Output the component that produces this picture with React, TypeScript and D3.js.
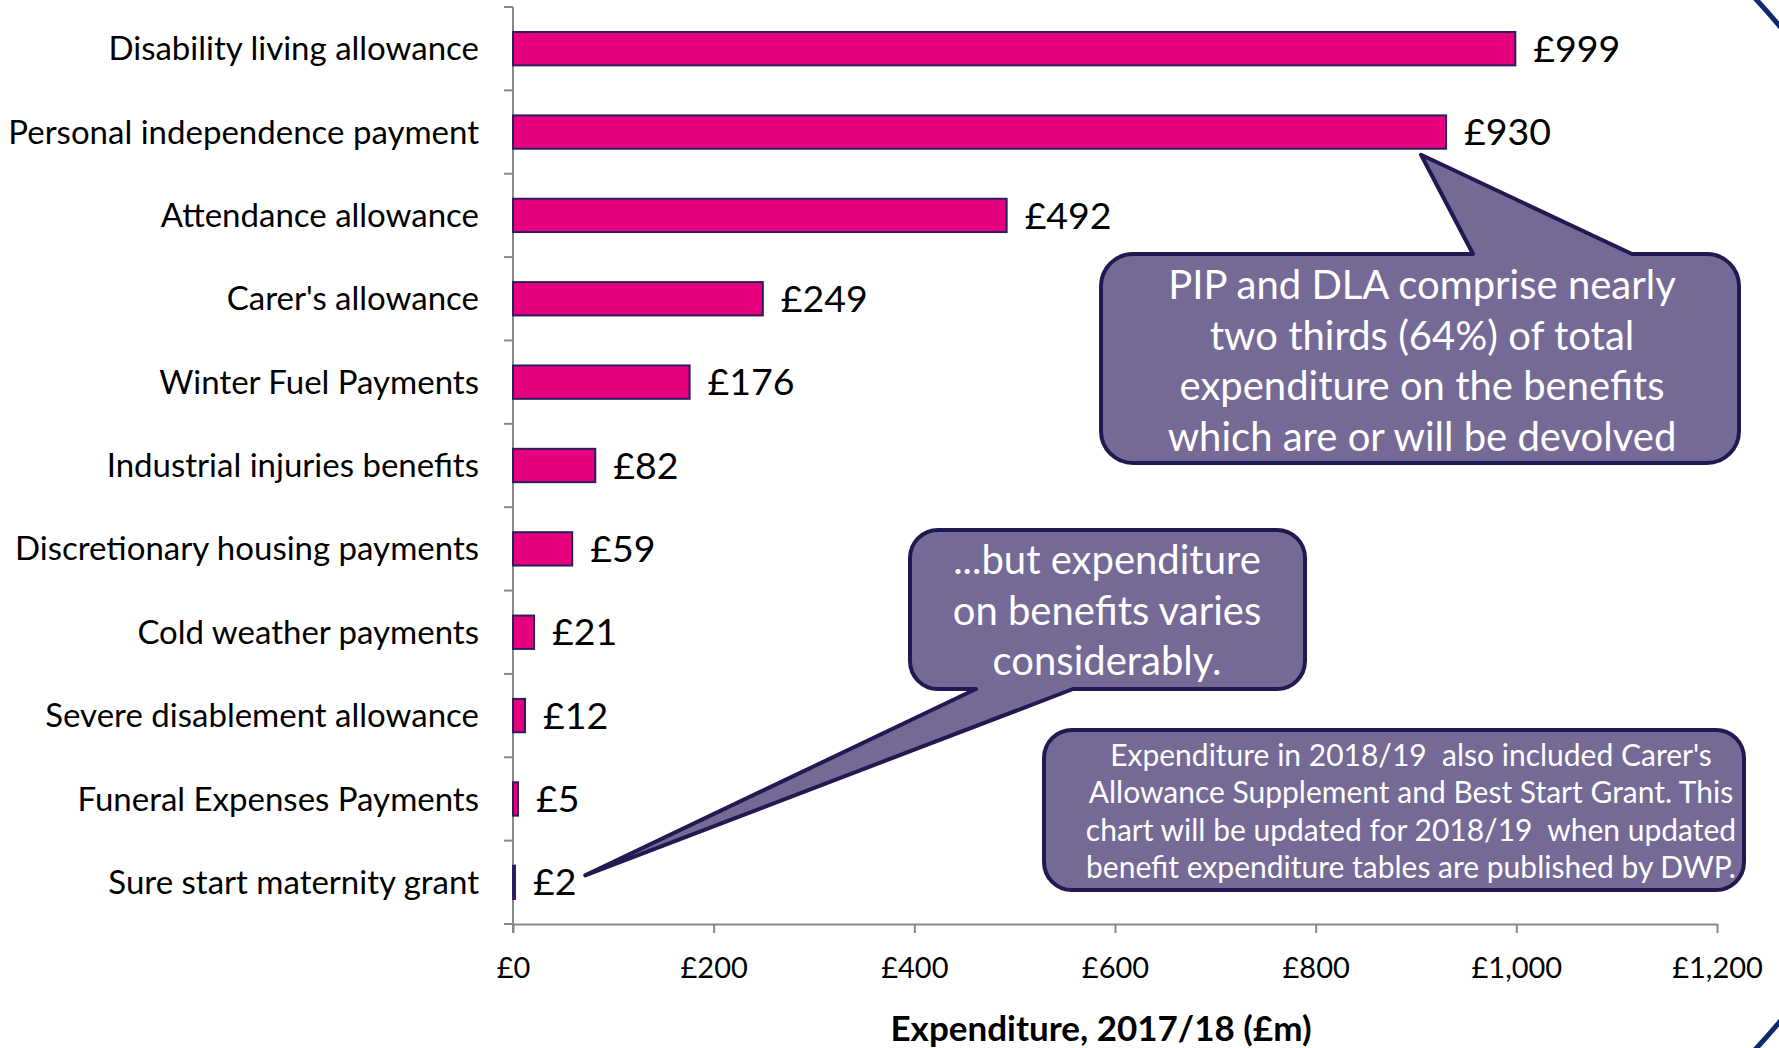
import React, { useEffect, useRef } from "react";
import * as d3 from "d3";

const categories = [
  "Disability living allowance",
  "Personal independence payment",
  "Attendance allowance",
  "Carer's allowance",
  "Winter Fuel Payments",
  "Industrial injuries benefits",
  "Discretionary housing payments",
  "Cold weather payments",
  "Severe disablement allowance",
  "Funeral Expenses Payments",
  "Sure start maternity grant",
];
const values = [999, 930, 492, 249, 176, 82, 59, 21, 12, 5, 2];
const xTicks = [0, 200, 400, 600, 800, 1000, 1200];
const axisTitle = "Expenditure, 2017/18 (£m)";

const noteTop = [
  "PIP and DLA comprise nearly",
  "two thirds (64%) of total",
  "expenditure on the benefits",
  "which are or will be devolved",
];
const noteMid = ["...but expenditure", "on benefits varies", "considerably."];
const noteBottom = [
  "Expenditure in 2018/19  also included Carer's",
  "Allowance Supplement and Best Start Grant. This",
  "chart will be updated for 2018/19  when updated",
  "benefit expenditure tables are published by DWP.",
];

const W = 1779;
const H = 1048;
const FONT = "Lato, 'Open Sans', sans-serif";

// rounded box with an optional wedge pointer cut into the top or bottom edge
function calloutPath(
  x0: number, y0: number, x1: number, y1: number, r: number,
  ptr?: { side: "top" | "bottom"; a: number; b: number; tx: number; ty: number }
) {
  const p = d3.path();
  p.moveTo(x0 + r, y0);
  if (ptr && ptr.side === "top") {
    p.lineTo(ptr.a, y0);
    p.lineTo(ptr.tx, ptr.ty);
    p.lineTo(ptr.b, y0);
  }
  p.lineTo(x1 - r, y0);
  p.arcTo(x1, y0, x1, y0 + r, r);
  p.lineTo(x1, y1 - r);
  p.arcTo(x1, y1, x1 - r, y1, r);
  if (ptr && ptr.side === "bottom") {
    p.lineTo(ptr.b, y1);
    p.lineTo(ptr.tx, ptr.ty);
    p.lineTo(ptr.a, y1);
  }
  p.lineTo(x0 + r, y1);
  p.arcTo(x0, y1, x0, y1 - r, r);
  p.lineTo(x0, y0 + r);
  p.arcTo(x0, y0, x0 + r, y0, r);
  p.closePath();
  return p.toString();
}

export default function App() {
  const ref = useRef<SVGSVGElement>(null);

  useEffect(() => {
    const svg = d3.select(ref.current);
    svg.selectAll("*").remove();

    // slide decoration: big circle, only its corners show
    svg.append("clipPath").attr("id", "edge").append("rect")
      .attr("x", 1745).attr("y", 0).attr("width", 40).attr("height", H);
    svg.append("circle")
      .attr("cx", 1187).attr("cy", 524).attr("r", 774)
      .attr("fill", "none").attr("stroke", "#0d2b6c").attr("stroke-width", 5)
      .attr("clip-path", "url(#edge)");

    const x = d3.scaleLinear().domain([0, 1200]).range([513, 1717]);
    const y = d3.scaleBand<string>().domain(categories).range([7, 924])
      .paddingInner(0.6).paddingOuter(0.3);
    const step = y.step();

    // x axis
    const gx = svg.append("g").attr("transform", "translate(0,924)")
      .call(
        d3.axisBottom(x).tickValues(xTicks).tickSize(9).tickSizeOuter(0).tickPadding(24)
          .tickFormat((d) => "£" + d3.format(",")(d as number))
      );
    gx.selectAll("path, line").attr("stroke", "#898989").attr("stroke-width", 2);
    gx.selectAll("text").attr("font-family", FONT).attr("font-size", 29).attr("fill", "#000");

    // y axis with ticks on the category boundaries
    const bounds = categories.map((c) => (y(c) as number) - step * 0.3).concat([924]);
    const gy = svg.append("g");
    gy.append("line").attr("x1", 513).attr("x2", 513).attr("y1", bounds[0]).attr("y2", 933)
      .attr("stroke", "#898989").attr("stroke-width", 2);
    gy.selectAll("line.tick").data(bounds).join("line").attr("class", "tick")
      .attr("x1", 504).attr("x2", 513).attr("y1", (d) => d).attr("y2", (d) => d)
      .attr("stroke", "#898989").attr("stroke-width", 2);

    // category labels
    svg.append("g").selectAll("text").data(categories).join("text")
      .attr("x", 479)
      .attr("y", (d) => (y(d) as number) + y.bandwidth() / 2)
      .attr("dy", "0.35em")
      .attr("text-anchor", "end")
      .attr("font-family", FONT).attr("font-size", 33).attr("fill", "#000")
      .text((d) => d);

    // bars
    svg.append("g").selectAll("rect").data(values).join("rect")
      .attr("x", x(0))
      .attr("y", (_, i) => y(categories[i]) as number)
      .attr("width", (d) => x(d) - x(0))
      .attr("height", y.bandwidth())
      .attr("fill", "#e6007e")
      .attr("stroke", "#2a1f5c").attr("stroke-width", 2);

    // value labels
    svg.append("g").selectAll("text").data(values).join("text")
      .attr("x", (d) => x(d) + 18)
      .attr("y", (_, i) => (y(categories[i]) as number) + y.bandwidth() / 2)
      .attr("dy", "0.35em")
      .attr("font-family", FONT).attr("font-size", 37.5).attr("fill", "#000")
      .text((d) => "£" + d);

    // axis title
    svg.append("text").attr("x", 1101).attr("y", 1029).attr("dy", "0.35em")
      .attr("text-anchor", "middle").attr("font-family", FONT).attr("font-weight", 700)
      .attr("font-size", 35).attr("fill", "#000").text(axisTitle);

    // callouts
    const fill = "#756a96";
    const edge = "#211a52";
    const pip = categories[1];
    const ssmg = categories[10];

    svg.append("path")
      .attr("d", calloutPath(1101, 254, 1739, 463, 32, {
        side: "top", a: 1473, b: 1632,
        tx: x(905), ty: (y(pip) as number) + y.bandwidth() + 6,
      }))
      .attr("fill", fill).attr("stroke", edge).attr("stroke-width", 4).attr("stroke-linejoin", "round");

    svg.append("path")
      .attr("d", calloutPath(910, 530, 1305, 689, 28, {
        side: "bottom", a: 976, b: 1073,
        tx: x(72), ty: (y(ssmg) as number) + y.bandwidth() / 2 - 7,
      }))
      .attr("fill", fill).attr("stroke", edge).attr("stroke-width", 4).attr("stroke-linejoin", "round");

    svg.append("path")
      .attr("d", calloutPath(1044, 730, 1744, 890, 28))
      .attr("fill", fill).attr("stroke", edge).attr("stroke-width", 4);

    const lines = (arr: string[], cx: number, y0: number, dy: number, size: number) => {
      svg.append("g").selectAll("text").data(arr).join("text")
        .attr("x", cx).attr("y", (_, i) => y0 + i * dy).attr("dy", "0.35em")
        .attr("text-anchor", "middle").attr("font-family", FONT)
        .attr("font-size", size).attr("fill", "#fff")
        .style("white-space", "pre")
        .text((d) => d);
    };
    lines(noteTop, 1422, 285, 50.7, 40);
    lines(noteMid, 1107, 560, 50.5, 40);
    lines(noteBottom, 1411, 755, 37.5, 30);
  }, []);

  return (
    <svg
      ref={ref}
      width={W}
      height={H}
      style={{ position: "absolute", left: 0, top: 0, background: "#fff", display: "block" }}
    />
  );
}
